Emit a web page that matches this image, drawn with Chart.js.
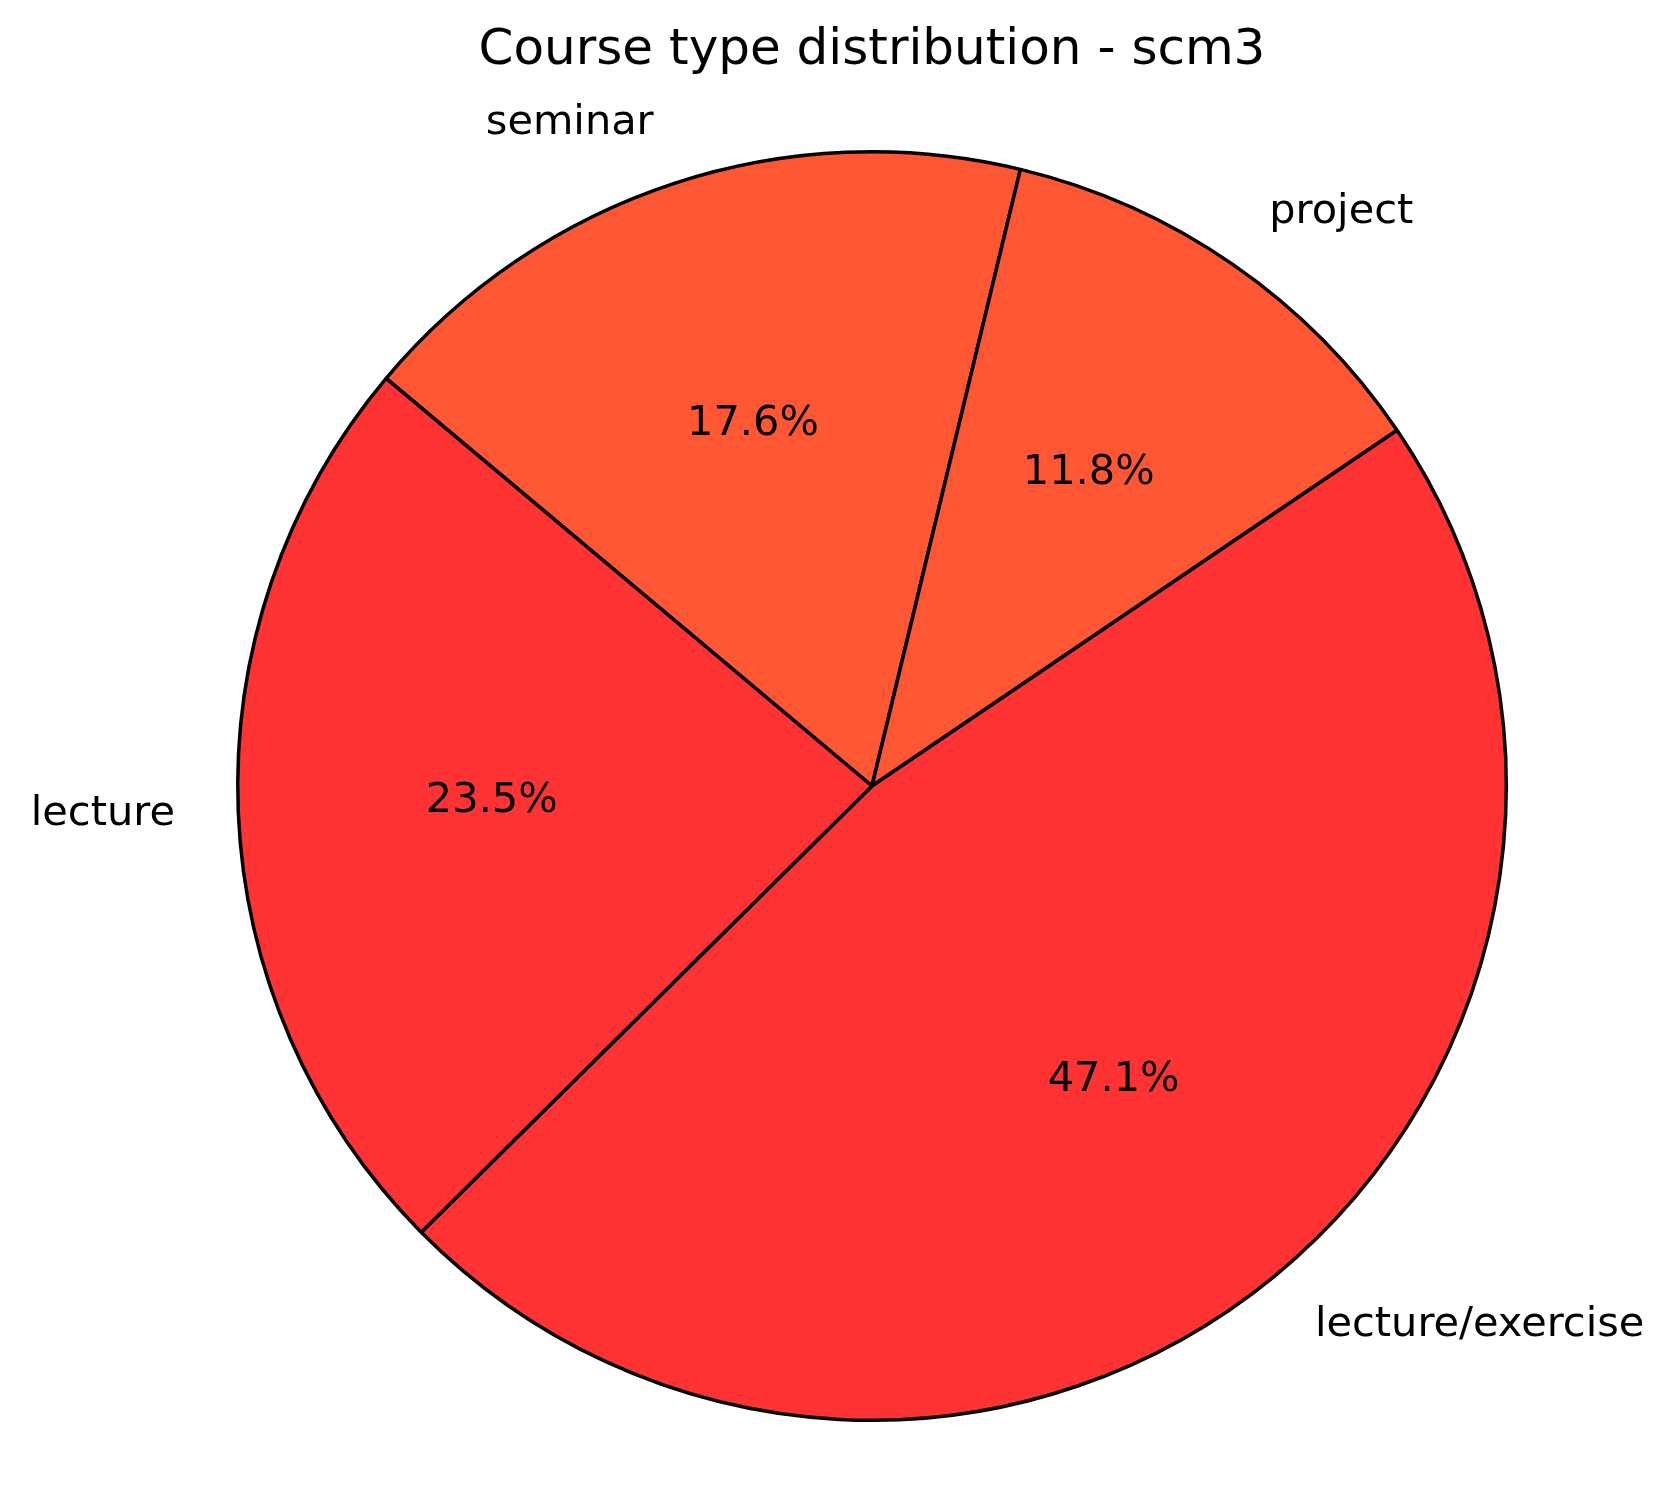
<!DOCTYPE html>
<html>
<head>
<meta charset="utf-8">
<script src="https://cdn.jsdelivr.net/npm/chart.js@4.4.0/dist/chart.umd.min.js"></script>
<style>
  html, body { margin: 0; padding: 0; background: #fff; }
  canvas { display: block; }
</style>
</head>
<body>
<canvas id="pieChart" width="1674" height="1509"></canvas>
<script>
// Data, in clockwise drawing order
const categories = ['seminar', 'project', 'lecture/exercise', 'lecture'];
const counts = [3, 2, 8, 4];
const sliceColors = ['#FF5733', '#FF5733', '#FF3333', '#FF3333'];
const chartTitle = 'Course type distribution - scm3';

const FONT = "'DejaVu Sans', sans-serif";

// Draws outer labels and percentages like matplotlib's autopct
const pieLabels = {
    id: 'pieLabels',
    afterDatasetsDraw(chart) {
        const ctx = chart.ctx;
        const meta = chart.getDatasetMeta(0);
        const total = counts.reduce((a, b) => a + b, 0);
        ctx.save();
        ctx.fillStyle = '#000';
        ctx.textBaseline = 'middle';
        ctx.font = '41.5px ' + FONT;
        meta.data.forEach((arc, i) => {
            const mid = (arc.startAngle + arc.endAngle) / 2;
            const r = arc.outerRadius;
            const cosA = Math.cos(mid), sinA = Math.sin(mid);

            // category label at 1.1 r
            const lx = arc.x + 1.1 * r * cosA;
            const ly = arc.y + 1.1 * r * sinA;
            ctx.textAlign = cosA > 0 ? 'left' : 'right';
            ctx.fillText(categories[i], lx, ly);

            // percentage at 0.6 r
            const px = arc.x + 0.6 * r * cosA;
            const py = arc.y + 0.6 * r * sinA;
            ctx.textAlign = 'center';
            ctx.fillText((counts[i] / total * 100).toFixed(1) + '%', px, py);
        });
        ctx.restore();
    }
};

const ctx = document.getElementById('pieChart').getContext('2d');
new Chart(ctx, {
    type: 'pie',
    data: {
        labels: categories,
        datasets: [{
            data: counts,
            backgroundColor: sliceColors,
            borderColor: '#000',
            borderWidth: 3.5,
            hoverOffset: 0
        }]
    },
    options: {
        responsive: false,
        animation: false,
        rotation: -50,
        layout: {
            padding: { left: 235, right: 165, top: 0, bottom: 87 }
        },
        plugins: {
            legend: { display: false },
            tooltip: { enabled: false },
            title: {
                display: true,
                text: chartTitle,
                color: '#000',
                font: { family: FONT, size: 50, weight: 'normal', lineHeight: 1.2 },
                padding: { top: 21, bottom: 69 }
            }
        }
    },
    plugins: [pieLabels]
});
</script>
</body>
</html>
